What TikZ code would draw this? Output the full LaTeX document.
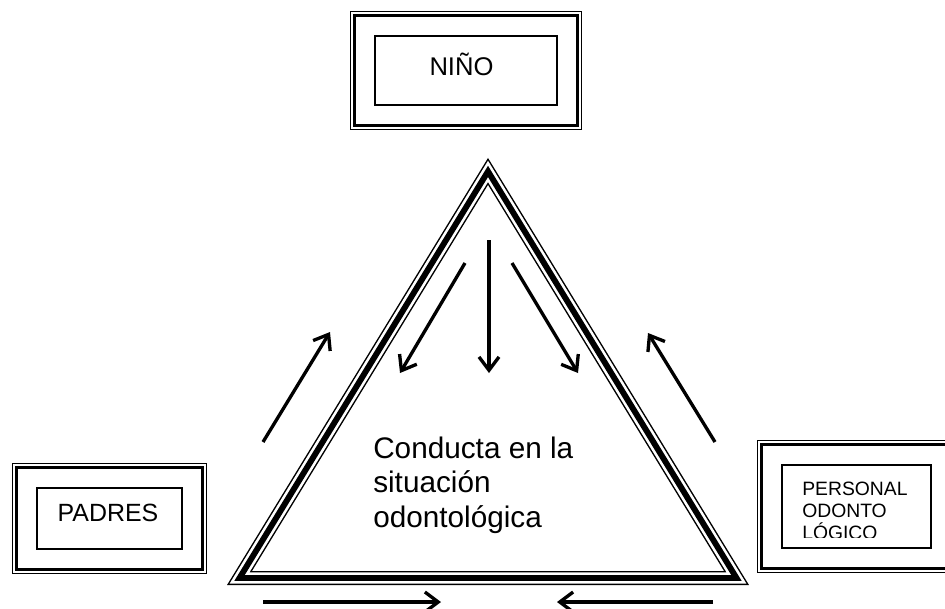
\documentclass[tikz,border=0pt]{standalone}
\usepackage{fontspec}
\setmainfont{Liberation Sans}
\usetikzlibrary{positioning}
\usetikzlibrary{arrows.meta,fit}

\begin{document}
\begin{tikzpicture}[x=0.75pt,y=-0.75pt,
  inbox/.style={draw,line width=1.1pt,inner sep=0pt},
  thinframe/.style={draw,line width=1pt,inner sep=18pt},
  thickframe/.style={draw,line width=2.2pt,inner sep=14.6pt},
  flow/.style={line width=2.5pt,-{Straight Barb[length=10pt,width=15pt]}},
  tri/.style={line join=miter}]
\useasboundingbox (0,0) rectangle (945,608);
\clip (0,0) rectangle (945,608);

% triangle with three lines
\coordinate (apex) at (488,171.4);
\coordinate (bl) at (239.5,578);
\coordinate (br) at (736.5,578);
\draw[tri,line width=10.5pt] (apex) -- (bl) -- (br) -- cycle;
\draw[tri,white,line width=8.3pt] (apex) -- (bl) -- (br) -- cycle;
\draw[tri,line width=4.4pt] (apex) -- (bl) -- (br) -- cycle;

% boxes
\node[inbox,minimum width=136.5pt,minimum height=51.75pt] (nino) at (466,70.5) {};
\node[thinframe,fit=(nino)] (ninoout) {};
\node[thickframe,fit=(nino)] (ninoin) {};
\node[anchor=base,font=\fontsize{19.2}{22}\selectfont] (ninotext) at (461.5,75) {NIÑO};

\node[inbox,minimum width=108.75pt,minimum height=45.75pt] (padres) at (109.5,518.5) {};
\node[thinframe,fit=(padres)] (padresout) {};
\node[thickframe,fit=(padres)] (padresin) {};
\node[anchor=base,font=\fontsize{18.7}{22}\selectfont] (padrestext) at (108,521) {PADRES};

\node[inbox,minimum width=111.75pt,minimum height=62.25pt] (personal) at (856.5,506.5) {};
\node[thinframe,fit=(personal)] (personalout) {};
\node[thickframe,fit=(personal)] (personalin) {};
\begin{scope}
\clip (782,465) rectangle (931,537);
\foreach \t [count=\i] in {PERSONAL,ODONTO,LÓGICO}
  \node[anchor=base west,inner sep=0pt,font=\fontsize{14.5}{16.5}\selectfont] (pers\i) at (802,473+22*\i) {\t};
\end{scope}

% text in the triangle
\foreach \t [count=\i] in {Conducta en la,situación,odontológica}
  \node[anchor=base west,inner sep=0pt,font=\fontsize{22.3}{26}\selectfont] (cond\i) at (373,423.5+34.5*\i) {\t};

% arrows
\coordinate (ms) at (489,240);  \coordinate (me) at (489,373);
\coordinate (ls) at (465,263);  \coordinate (le) at (400,373);
\coordinate (rs) at (512,263);  \coordinate (re) at (578,373);
\coordinate (pas) at (263,442); \coordinate (pae) at (330,332);
\coordinate (pes) at (715,442); \coordinate (pee) at (648,333);
\coordinate (bls) at (263,602); \coordinate (ble) at (441,602);
\coordinate (brs) at (713,602); \coordinate (bre) at (557,602);
\draw[flow] (ms) -- (me);
\draw[flow] (ls) -- (le);
\draw[flow] (rs) -- (re);
\draw[flow] (pas) -- (pae);
\draw[flow] (pes) -- (pee);
\draw[flow] (bls) -- (ble);
\draw[flow] (brs) -- (bre);
\end{tikzpicture}
\end{document}
